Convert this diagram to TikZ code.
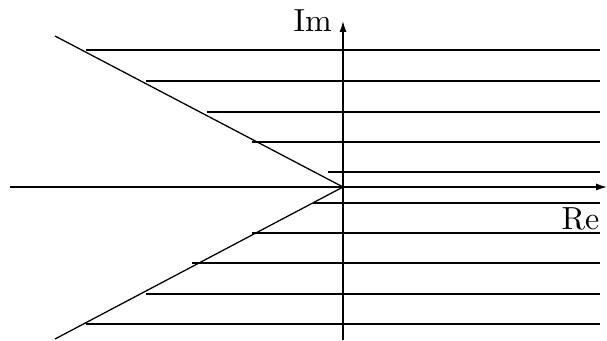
\documentclass[tikz,border=0pt]{standalone}
\usepackage{tikz}
\usetikzlibrary{arrows.meta, positioning}

\begin{document}
\begin{tikzpicture}[x=0.011cm, y=0.011cm,
		axis/.style={-{Latex[length=3.4pt,width=2.2pt]}, line width=0.45pt},
		ray/.style={line width=0.4pt},
		level/.style={line width=0.4pt}]
		\useasboundingbox (-343,-153) rectangle (264,187);
		
		% Origin and axis ends
		\coordinate (O) at (0,0);
		\coordinate (xl) at (-333,0);
		\coordinate (xr) at (264,0);
		\coordinate (yb) at (0,-153);
		\coordinate (yt) at (0,166);
		
		% Axes
		\draw[axis] (xl) -- (xr);
		\draw[axis] (yb) -- (yt);
		\node[left] (im) at (yt) {Im};
		\node[anchor=north east, inner sep=0pt] (re) at (257,-20) {Re};
		
		% Wedge
		\coordinate (wt) at (-288,151);
		\coordinate (wb) at (-288,-152);
		\draw[ray] (O) -- (wt);
		\draw[ray] (O) -- (wb);
		
		% Horizontal lines
		\foreach \y/\s in {137/-257, 106/-197, 75/-136, 45/-91, 15/-15,
			-16/-30, -46/-91, -76/-151, -107/-197, -137/-257}
		\draw[level] (\s,\y) -- (257,\y);
	\end{tikzpicture}
\end{document}
